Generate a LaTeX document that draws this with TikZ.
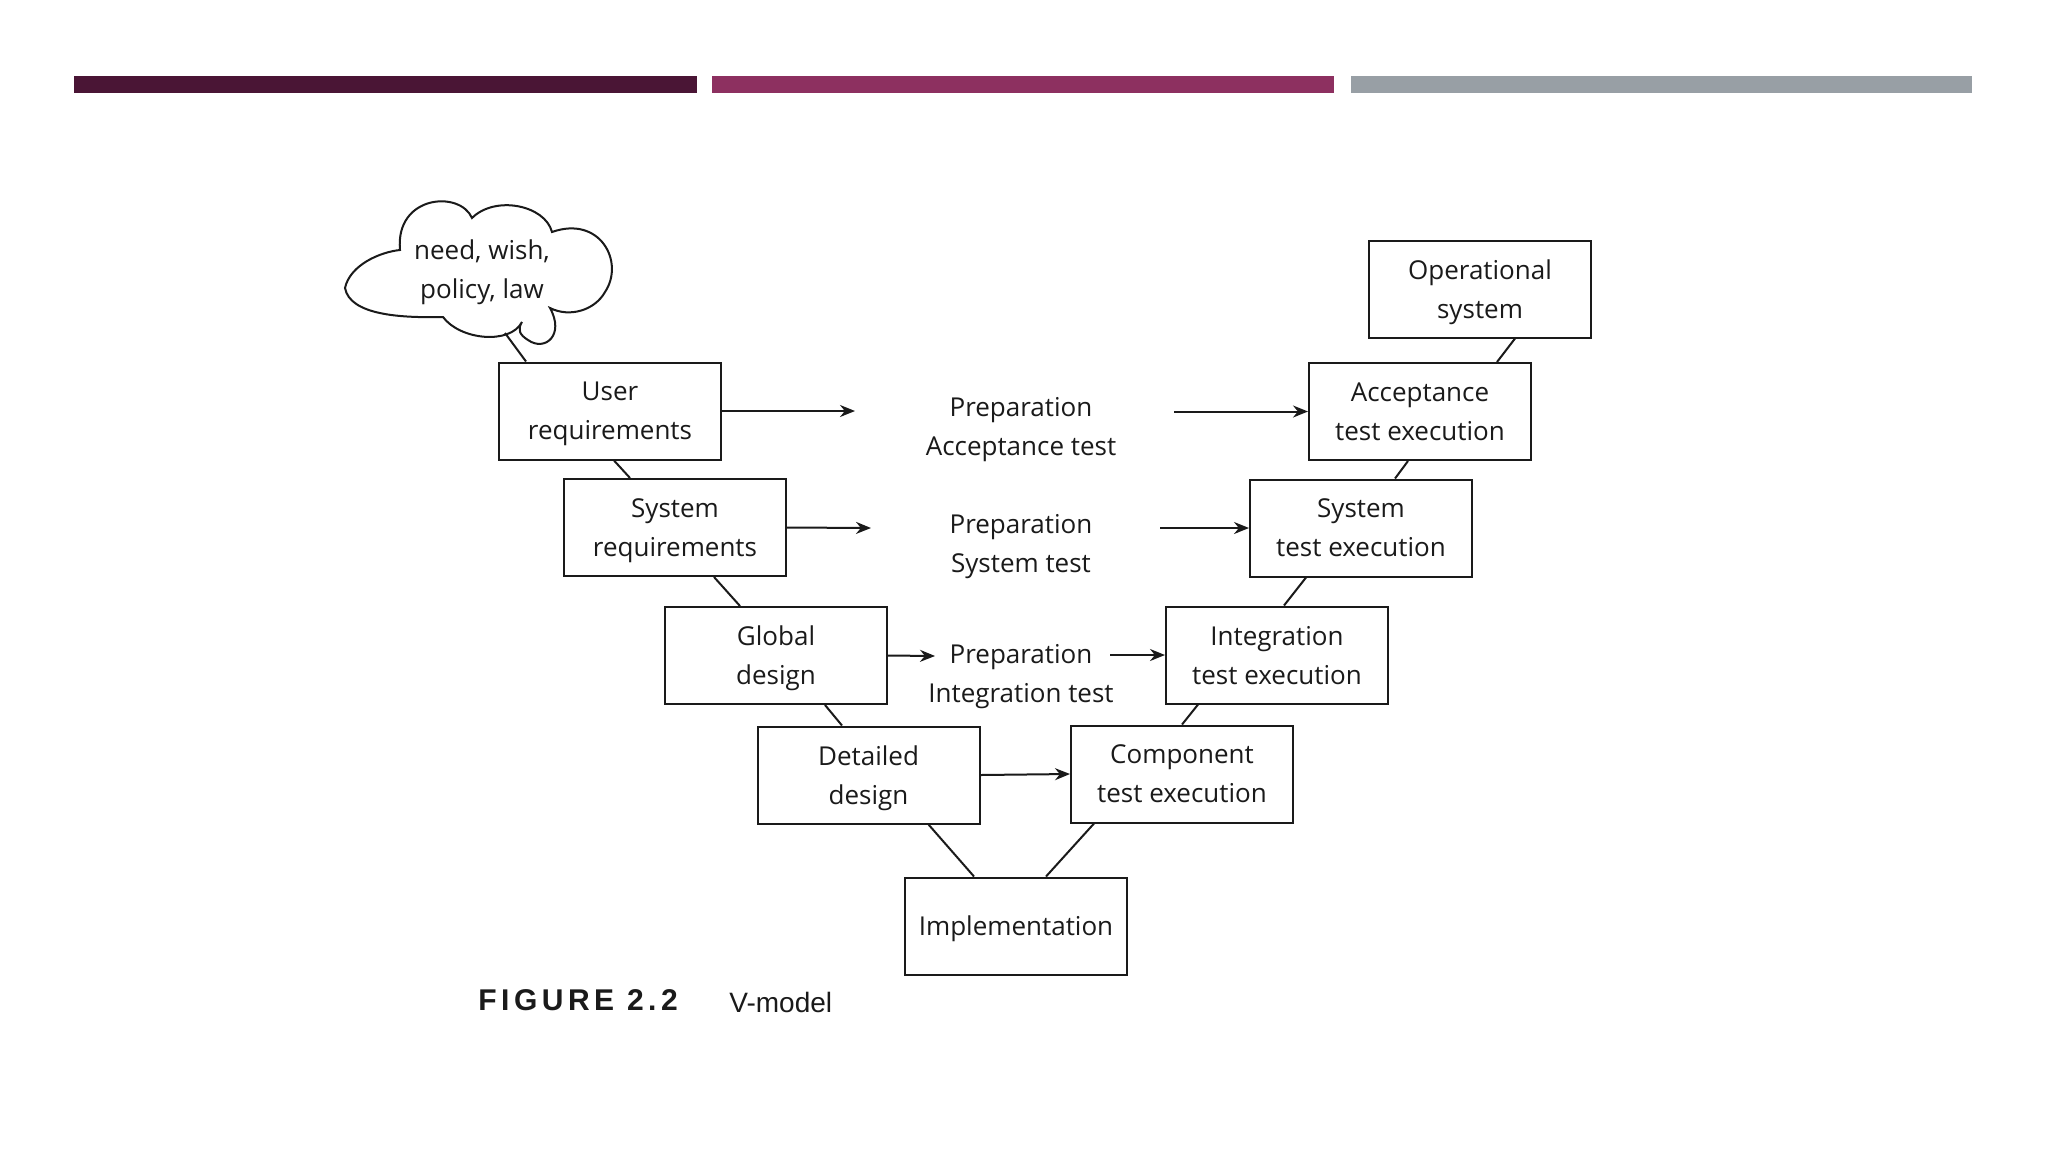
\documentclass[tikz,border=0pt]{standalone}
\usepackage{fontspec}
\setmainfont{Open Sans}
\newfontfamily\capfont[LetterSpace=15]{Liberation Sans}
\newfontfamily\vfont{Liberation Sans}
\usetikzlibrary{arrows.meta}
\definecolor{barA}{HTML}{4A1535}
\definecolor{barB}{HTML}{8D3060}
\definecolor{barC}{HTML}{989FA5}
\definecolor{ink}{HTML}{1A1A1A}
\begin{document}
\begin{tikzpicture}[x=0.5pt,y=-0.5pt,
  every node/.style={text=ink},
  box/.style={draw=ink, line width=1pt, minimum width=111pt, minimum height=48.5pt, inner sep=0pt, align=center, text depth=0pt, font=\fontsize{13}{19.5}\selectfont},
  lbl/.style={align=center, inner sep=0pt, text depth=0pt, font=\fontsize{13}{19.5}\selectfont},
  link/.style={draw=ink, line width=1pt},
  arr/.style={draw=ink, line width=1pt, -{Stealth[length=7.5pt,width=6pt]}}]
\useasboundingbox (0,0) rectangle (2048,1152);
\fill[white] (0,0) rectangle (2048,1152);
% top bars
\fill[barA] (74,76) rectangle (697,93);
\fill[barB] (712,76) rectangle (1334,93);
\fill[barC] (1351,76) rectangle (1972,93);
% cloud
\draw[link] (345,288) .. controls (350,265) and (380,252) .. (400,250)
 .. controls (395,195) and (460,190) .. (472,218)
 .. controls (495,195) and (545,205) .. (552,232)
 .. controls (600,215) and (625,262) .. (605,292)
 .. controls (595,310) and (570,318) .. (550,308)
 .. controls (565,335) and (545,352) .. (528,340)
 .. controls (520,335) and (517,330) .. (522,322)
 .. controls (510,345) and (460,340) .. (443,317)
 .. controls (400,318) and (350,315) .. (345,288) -- cycle;
\node[lbl] (cloud) at (482,269) {need, wish,\\policy, law};
\coordinate (cb) at (505,333);
% boxes
\node[box] (ur) at (610,411) {User\\requirements};
\node[box] (sr) at (675,527.5) {System\\requirements};
\node[box] (gd) at (776,655.5) {Global\\design};
\node[box] (dd) at (868.5,775) {Detailed\\design};
\node[box] (im) at (1016,926) {Implementation};
\node[box] (ct) at (1182,774) {Component\\test execution};
\node[box] (it) at (1277,655) {Integration\\test execution};
\node[box] (st) at (1361,528) {System\\test execution};
\node[box] (at) at (1420,411.5) {Acceptance\\test execution};
\node[box] (os) at (1480,289) {Operational\\system};
% preparation labels
\node[lbl] (p1) at (1021,426) {Preparation\\Acceptance test};
\node[lbl] (p2) at (1021,543) {Preparation\\System test};
\node[lbl] (p3) at (1021,673) {Preparation\\Integration test};
\coordinate (p1l) at (855,411);
\coordinate (p1r) at (1174,411.5);
\coordinate (p2l) at (871,528);
\coordinate (p2r) at (1160,528);
\coordinate (p3l) at (935,656);
\coordinate (p3r) at (1110,655);
% V connectors
\draw[link] (cb) -- ([xshift=-42pt]ur.north);
\draw[link] ([xshift=2pt]ur.south) -- ([xshift=-22.5pt]sr.north);
\draw[link] ([xshift=19.5pt]sr.south) -- ([xshift=-18pt]gd.north);
\draw[link] ([xshift=24.5pt]gd.south) -- ([xshift=-13.25pt]dd.north);
\draw[link] ([xshift=30pt]dd.south) -- ([xshift=-21pt]im.north);
\draw[link] ([xshift=15pt]im.north) -- ([xshift=-44pt]ct.south);
\draw[link] (ct.north) -- ([xshift=-39.5pt]it.south);
\draw[link] ([xshift=3.5pt]it.north) -- ([xshift=-27.5pt]st.south);
\draw[link] ([xshift=17pt]st.north) -- ([xshift=-6pt]at.south);
\draw[link] ([xshift=38.5pt]at.north) -- ([xshift=17.5pt]os.south);
% arrows
\draw[arr] (ur.east) -- (p1l);
\draw[arr] (p1r) -- (at.west);
\draw[arr] (sr.east) -- (p2l);
\draw[arr] (p2r) -- (st.west);
\draw[arr] (gd.east) -- (p3l);
\draw[arr] (p3r) -- (it.west);
\draw[arr] (dd.east) -- (ct.west);
% caption
\node[anchor=west, inner sep=0pt, font=\capfont\bfseries\fontsize{15}{17}\selectfont] (fig) at (478,1000) {FIGURE 2.2};
\node[anchor=west, inner sep=0pt, font=\vfont\fontsize{14}{16}\selectfont] (vm) at (729,1002) {V-model};
\end{tikzpicture}
\end{document}
